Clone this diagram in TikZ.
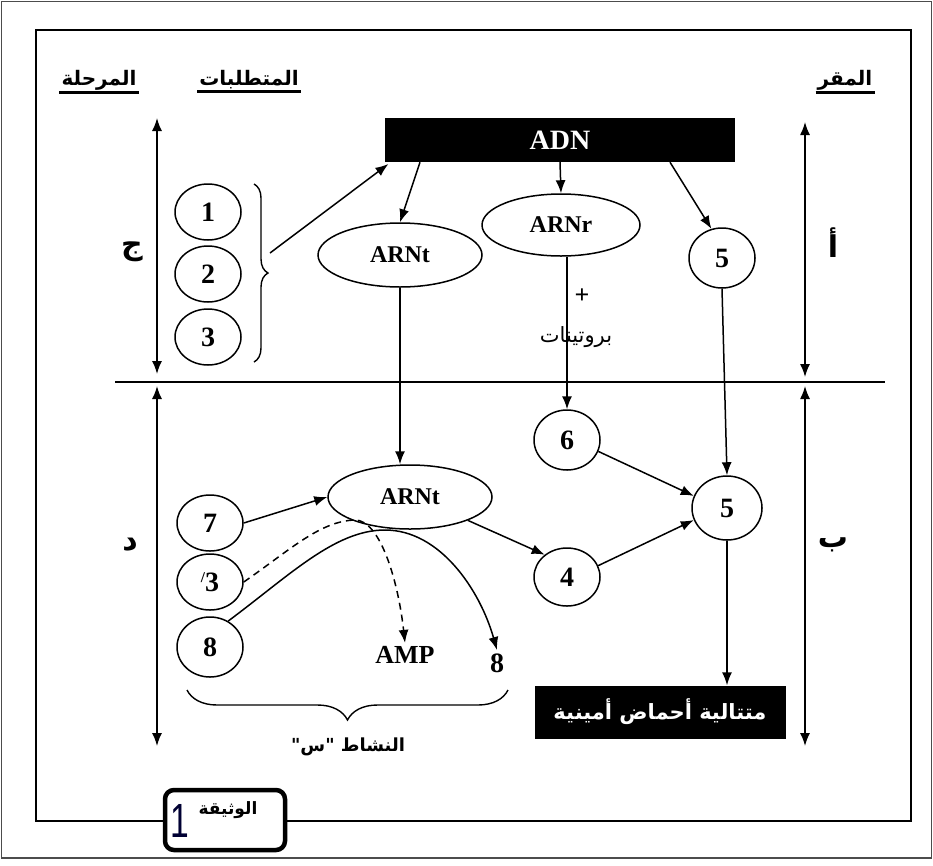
\documentclass[tikz,border=0pt]{standalone}
\usepackage{fontspec}
\setmainfont{Liberation Serif}
\newfontfamily\ar[Script=Arabic]{DejaVu Sans}
\newfontfamily\sansf{Liberation Sans}
\usetikzlibrary{shapes.geometric,arrows.meta,decorations.pathreplacing}
\TeXXeTstate=1
\begin{document}
\begin{tikzpicture}[x=1pt,y=-1pt,
 circ/.style={draw,ellipse,line width=1.5pt,inner sep=0pt,minimum width=66pt,minimum height=56pt,font=\fontsize{28}{28}\selectfont\bfseries},
 ell/.style={draw,ellipse,line width=1.5pt,inner sep=0pt,minimum width=164pt,minimum height=64pt,font=\fontsize{24}{24}\selectfont\bfseries},
 arr/.style={line width=1.5pt,-{Latex[length=13pt,width=10pt]}},
 darr/.style={line width=1.5pt,{Latex[length=13pt,width=10pt]}-{Latex[length=13pt,width=10pt]}},
 hdr/.style={font=\ar\bfseries\fontsize{20}{22}\selectfont,inner sep=2pt},
 lbl/.style={font=\ar\bfseries\fontsize{30}{32}\selectfont},
 blk/.style={fill=black,text=white,inner sep=0pt},
 brc/.style={line width=1.4pt,decorate},
]
\useasboundingbox (0,0) rectangle (933,865);
\fill[white] (0,0) rectangle (933,865);
\draw[black!70,line width=1.5pt] (1.5,1.5) rectangle (931.5,858);
\draw[line width=2.2pt] (36,30) rectangle (911,821);

% headers
\node[hdr] (h1) at (99,80) {\beginR المرحلة\endR};
\node[hdr] (h2) at (249,80) {\beginR المتطلبات\endR};
\node[hdr] (h3) at (845,80) {\beginR المقر\endR};
\foreach \h in {h1,h2,h3} \draw[line width=3pt] (\h.south west) -- (\h.south east);

% ADN
\node[blk,minimum width=350pt,minimum height=44pt,font=\bfseries\fontsize{28}{28}\selectfont] (adn) at (560,140) {ADN};

% phase arrows
\coordinate (la1) at (157,118); \coordinate (la2) at (157,374);
\coordinate (la3) at (157,386); \coordinate (la4) at (157,746);
\coordinate (ra1) at (805,122); \coordinate (ra2) at (805,377);
\coordinate (ra3) at (805,386); \coordinate (ra4) at (805,746);
\draw[darr] (la1) -- (la2);
\draw[darr] (la3) -- (la4);
\draw[darr] (ra1) -- (ra2);
\draw[darr] (ra3) -- (ra4);
\node[lbl] (pj) at (132,252) {\beginR ج\endR};
\node[lbl] (pd) at (130,545) {\beginR د\endR};
\node[lbl] (pa) at (833,243) {\beginR أ\endR};
\node[lbl] (pb) at (833,545) {\beginR ب\endR};

% divider
\coordinate (dv1) at (115,382); \coordinate (dv2) at (885,382);
\draw[line width=2pt] (dv1) -- (dv2);

% requirements 1-3
\node[circ] (c1) at (208,212) {1};
\node[circ] (c2) at (208,274) {2};
\node[circ] (c3) at (208,337) {3};
\draw[brc,decoration={brace,amplitude=14pt}] (254,184) -- (254,362);
\coordinate (brt) at (270,253);
\draw[arr,shorten >=3pt] (brt) -- ([xshift=6pt]adn.south west);

% top row
\node[ell] (t1) at (400,255) {ARNt};
\node[ell,minimum width=158pt,minimum height=62pt] (r1) at (561,225) {ARNr};
\node[circ,minimum height=60pt] (f1) at (722,258) {5};
\draw[arr] ([xshift=-140pt]adn.south) -- (t1.north);
\draw[arr] (adn.south) -- (r1.north);
\draw[arr] ([xshift=110pt]adn.south) -- (f1.110);

\node[font=\bfseries\fontsize{26}{26}\selectfont] (plus) at (582,296) {+};
\node[font=\ar\fontsize{21}{24}\selectfont] (prot) at (576,337) {\beginR بروتينات\endR};

% bottom row
\node[circ,minimum height=60pt] (c6) at (567,440) {6};
\node[circ,minimum width=70pt,minimum height=64pt] (f2) at (727,508) {5};
\node[circ,minimum height=58pt] (c4) at (567,577) {4};
\node[ell] (t2) at (410,497) {ARNt};
\node[circ] (c7) at (210,523) {7};
\node[circ] (c3p) at (210,582) {\raisebox{9pt}{\fontsize{15}{15}\selectfont/}3};
\node[circ,minimum height=60pt] (c8) at (210,647) {8};

\draw[arr] (c6.north |- r1.south) -- (c6.north);
\draw[arr] (t1.south) -- (t1.south |- t2.north);
\draw[arr] (f1.south) -- (f2.north);
\draw[arr] (c6.-20) -- (f2.160);
\draw[arr] (c4.20) -- (f2.200);
\draw[arr] (t2.-22) -- (c4.135);
\draw[arr] (c7.east) -- (t2.west);

\node[blk,minimum width=251pt,minimum height=53pt,font=\ar\bfseries\fontsize{21}{24}\selectfont] (seq) at (660,712) {\beginR متتالية أحماض أمينية\endR};
\draw[arr] (f2.south) -- (f2.south |- seq.north);

\node[font=\bfseries\fontsize{26}{26}\selectfont] (amp) at (405,655) {AMP};
\node[font=\bfseries\fontsize{28}{28}\selectfont] (e8) at (497,663) {8};

\draw[line width=1.5pt,dash pattern=on 7pt off 5pt,-{Latex[length=13pt,width=10pt]}] (c3p.east) .. controls (290,550) and (320,521) .. (355,520) .. controls (380,520) and (398,580) .. (amp.north);
\draw[arr] (c8.55) .. controls (290,575) and (335,530) .. (385,530) .. controls (440,530) and (480,590) .. (e8.north);

\draw[brc,decoration={brace,amplitude=30pt}] (508,690) -- (187,690);
\node[font=\ar\bfseries\fontsize{18}{20}\selectfont] (act) at (348,747) {\beginR النشاط "س"\endR};

% document label
\node[draw,line width=4.5pt,rounded corners=9pt,fill=white,minimum width=120pt,minimum height=60pt] (doc) at (225,820) {};
\node[font=\sansf\fontsize{48}{48}\selectfont,text=black!80!blue,inner sep=0pt] (one) at (180,821) {\scalebox{0.7}[1]{1}};
\node[font=\ar\bfseries\fontsize{17}{20}\selectfont] (wt) at (228,810) {\beginR الوثيقة\endR};
\end{tikzpicture}
\end{document}
